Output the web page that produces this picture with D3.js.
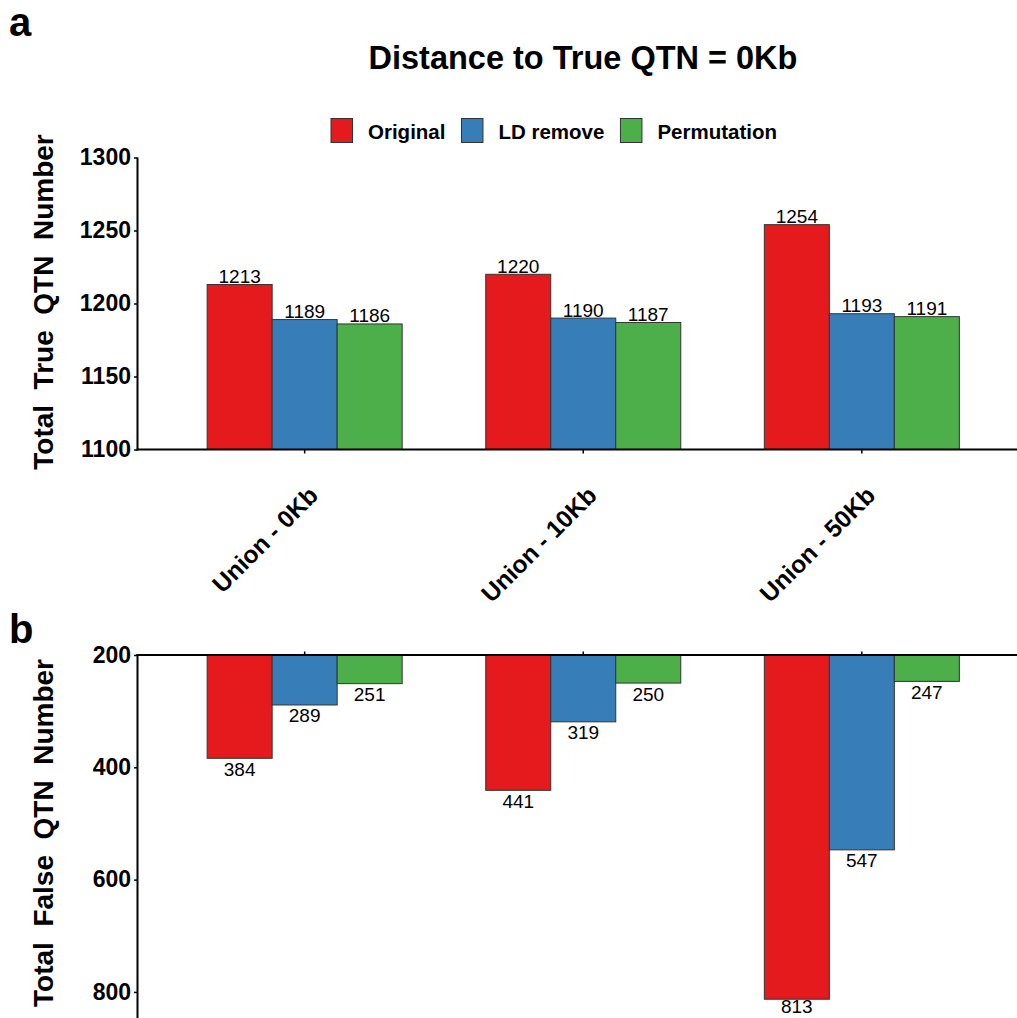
<!DOCTYPE html>
<html>
<head>
<meta charset="utf-8">
<script src="https://cdnjs.cloudflare.com/ajax/libs/d3/7.8.5/d3.min.js"></script>
<style>
  html, body { margin: 0; padding: 0; background: #fff; }
  svg { display: block; font-family: "Liberation Sans", Arial, Helvetica, sans-serif; }
</style>
</head>
<body>
<svg id="chart" width="1017" height="1018"></svg>
<script>
// ---- data ----
const categories = ["Union - 0Kb", "Union - 10Kb", "Union - 50Kb"];
const methods = ["Original", "LD remove", "Permutation"];
const methodColors = ["#E41A1C", "#377EB8", "#4DAF4A"];

// Total true QTN number per category
const trueOriginal = [1213, 1220, 1254];
const trueLDremove = [1189, 1190, 1193];
const truePermutation = [1186, 1187, 1191];

// Total false QTN number per category
const falseOriginal = [384, 441, 813];
const falseLDremove = [289, 319, 547];
const falsePermutation = [251, 250, 247];

const trueTicks = [1100, 1150, 1200, 1250, 1300];
const falseTicks = [200, 400, 600, 800];

const titleText = "Distance to True QTN = 0Kb";

// ---- layout ----
const svg = d3.select("#chart");
const axisX = 137.5;
const aBase = 449.5, aTop = 157.5;
const bTop = 655, bBottom = 1020;

const x = d3.scalePoint().domain(categories).range([axisX, 1029]).padding(0.6);
const groupW = x.step() * 0.7;
const xm = d3.scaleBand().domain(methods).range([-groupW / 2, groupW / 2]);
const color = d3.scaleOrdinal().domain(methods).range(methodColors);

const yA = d3.scaleLinear().domain([1100, 1300]).range([aBase, aTop]);
const yB = d3.scaleLinear().domain([200, 850]).range([bTop, bBottom]);

function rows(series) {
  const out = [];
  categories.forEach((c, i) => {
    methods.forEach((m, j) => out.push({ cat: c, method: m, value: series[j][i] }));
  });
  return out;
}
const trueRows = rows([trueOriginal, trueLDremove, truePermutation]);
const falseRows = rows([falseOriginal, falseLDremove, falsePermutation]);

// ---- panel letters ----
svg.append("text").attr("x", 9).attr("y", 36).attr("font-size", 40).attr("font-weight", "bold").text("a");
svg.append("text").attr("x", 9).attr("y", 643).attr("font-size", 40).attr("font-weight", "bold").text("b");

// ---- title ----
svg.append("text").attr("x", 583).attr("y", 69).attr("text-anchor", "middle")
  .attr("font-size", 32.5).attr("font-weight", "bold").text(titleText);

// ---- legend ----
const legend = svg.append("g");
let lx = 331;
methods.forEach((m, i) => {
  legend.append("rect").attr("x", lx).attr("y", 118.5).attr("width", 21.5).attr("height", 24)
    .attr("fill", color(m)).attr("stroke", "#333").attr("stroke-width", 1);
  const t = legend.append("text").attr("x", lx + 37).attr("y", 138.5)
    .attr("font-size", 20.5).attr("font-weight", "bold").text(m);
  lx += 37 + t.node().getComputedTextLength() + 16;
});

// ---- panel a: true QTN ----
const gA = svg.append("g");
gA.selectAll("rect.bar").data(trueRows).join("rect")
  .attr("class", "bar")
  .attr("x", d => x(d.cat) + xm(d.method))
  .attr("width", xm.bandwidth())
  .attr("y", d => yA(d.value))
  .attr("height", d => aBase - yA(d.value))
  .attr("fill", d => color(d.method))
  .attr("stroke", "#333").attr("stroke-width", 1);

gA.selectAll("text.val").data(trueRows).join("text")
  .attr("class", "val")
  .attr("x", d => x(d.cat) + xm(d.method) + xm.bandwidth() / 2)
  .attr("y", d => yA(d.value) - 1.6)
  .attr("text-anchor", "middle").attr("font-size", 19)
  .text(d => d.value);

// y axis a
const axA = gA.append("g").attr("transform", `translate(${axisX},0)`)
  .call(d3.axisLeft(yA).tickValues(trueTicks).tickSize(3.5).tickPadding(3).tickFormat(d3.format("d")));
axA.select(".domain").remove();
axA.selectAll(".tick line").attr("stroke", "#000").attr("stroke-width", 1.5);
axA.selectAll(".tick text").attr("font-size", 23).attr("font-weight", "bold")
  .attr("fill", "#000").attr("font-family", "Liberation Sans, Arial, sans-serif");
gA.append("line").attr("x1", axisX).attr("x2", axisX).attr("y1", aTop).attr("y2", aBase + 1)
  .attr("stroke", "#000").attr("stroke-width", 2);

// x axis a
gA.append("line").attr("x1", axisX - 1).attr("x2", 1017).attr("y1", aBase).attr("y2", aBase)
  .attr("stroke", "#000").attr("stroke-width", 2);
gA.selectAll("line.xt").data(categories).join("line").attr("class", "xt")
  .attr("x1", d => x(d)).attr("x2", d => x(d)).attr("y1", aBase).attr("y2", aBase + 4)
  .attr("stroke", "#000").attr("stroke-width", 1.5);
gA.selectAll("text.xl").data(categories).join("text").attr("class", "xl")
  .attr("transform", d => `translate(${x(d) + 15},${aBase + 47.5}) rotate(-45)`)
  .attr("text-anchor", "end").attr("font-size", 24.5).attr("font-weight", "bold")
  .text(d => d);

// y title a
svg.append("text").attr("transform", "translate(53,302) rotate(-90)")
  .attr("text-anchor", "middle").attr("font-size", 28).attr("font-weight", "bold")
  .style("white-space", "pre").text("Total  True  QTN  Number");

// ---- panel b: false QTN ----
const gB = svg.append("g");
gB.selectAll("rect.bar").data(falseRows).join("rect")
  .attr("class", "bar")
  .attr("x", d => x(d.cat) + xm(d.method))
  .attr("width", xm.bandwidth())
  .attr("y", bTop)
  .attr("height", d => yB(d.value) - bTop)
  .attr("fill", d => color(d.method))
  .attr("stroke", "#333").attr("stroke-width", 1);

// value labels under the bars; keep the deepest one inside the page
gB.selectAll("text.val").data(falseRows).join("text")
  .attr("class", "val")
  .attr("x", d => x(d.cat) + xm(d.method) + xm.bandwidth() / 2)
  .attr("y", d => Math.min(yB(d.value) + 17.5, 1013))
  .attr("text-anchor", "middle").attr("font-size", 19)
  .text(d => d.value);

const axB = gB.append("g").attr("transform", `translate(${axisX},0)`)
  .call(d3.axisLeft(yB).tickValues(falseTicks).tickSize(3.5).tickPadding(3).tickFormat(d3.format("d")));
axB.select(".domain").remove();
axB.selectAll(".tick line").attr("stroke", "#000").attr("stroke-width", 1.5);
axB.selectAll(".tick text").attr("font-size", 23).attr("font-weight", "bold")
  .attr("fill", "#000").attr("font-family", "Liberation Sans, Arial, sans-serif");
gB.append("line").attr("x1", axisX).attr("x2", axisX).attr("y1", bTop - 1).attr("y2", 1018)
  .attr("stroke", "#000").attr("stroke-width", 2);
gB.append("line").attr("x1", axisX - 1).attr("x2", 1017).attr("y1", bTop).attr("y2", bTop)
  .attr("stroke", "#000").attr("stroke-width", 2);
gB.selectAll("line.xt").data(categories).join("line").attr("class", "xt")
  .attr("x1", d => x(d)).attr("x2", d => x(d)).attr("y1", bTop).attr("y2", bTop - 3.5)
  .attr("stroke", "#000").attr("stroke-width", 1.5);

svg.append("text").attr("transform", "translate(53,833) rotate(-90)")
  .attr("text-anchor", "middle").attr("font-size", 28).attr("font-weight", "bold")
  .style("white-space", "pre").text("Total  False  QTN  Number");
</script>
</body>
</html>
